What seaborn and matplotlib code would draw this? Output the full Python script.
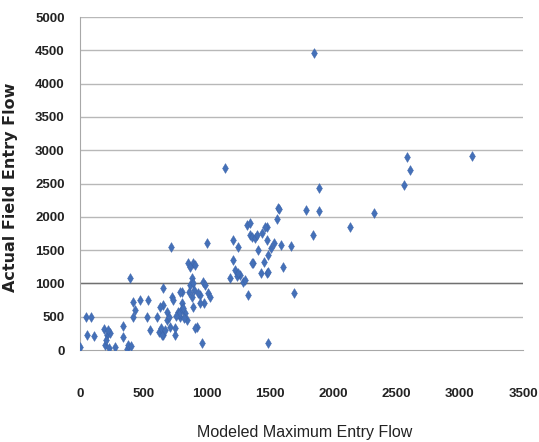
import matplotlib
matplotlib.use("Agg")
import matplotlib.pyplot as plt
import seaborn as sns
import pandas as pd

modeled = [
    0, 48, 87, 55, 111, 190, 214, 198, 238, 205, 222, 277, 341, 341, 372, 380, 404, 396, 420, 436, 420, 475, 230,
    531, 539, 554, 610, 626, 657, 657, 657, 689, 721, 729, 713, 752, 776, 790, 808, 808, 832, 847, 855, 895, 911,
    871, 887, 895, 927, 950, 966, 974, 982, 1006, 1014, 1030, 634, 689, 752, 649, 911, 792, 737, 860, 887, 895,
    990, 800, 780, 820, 810, 760, 700, 900, 930, 950, 870, 640, 670,
    1148, 1188, 1212, 1212, 1228, 1251, 1267, 1291, 1330, 1323, 1346, 1370, 1410, 1426, 1481, 1481, 1489, 1346,
    1465, 1360, 1380, 1400, 1440, 1481, 1505, 1489, 1450, 1362, 1489, 1307, 1240, 1250, 1560, 1568, 1576, 1584,
    1600, 1663, 1687, 1529,
    1845, 1782, 1885, 1885, 1837, 2130, 2320, 2582, 2606, 2558, 3097,
]
actual = [
    45, 495, 495, 225, 210, 315, 225, 75, 255, 150, 300, 45, 360, 195, 15, 75, 60, 1080, 720, 600, 495, 750, 30,
    495, 750, 300, 495, 270, 930, 675, 225, 450, 1545, 795, 345, 225, 570, 495, 870, 705, 555, 450, 1305, 1305, 1275,
    975, 795, 645, 345, 825, 105, 1020, 705, 1605, 855, 795, 645, 570, 330, 225, 330, 870, 750, 870, 1080, 1005,
    975, 600, 540, 480, 630, 510, 500, 900, 850, 700, 1250, 330, 300,
    2730, 1080, 1650, 1350, 1200, 1545, 1125, 1020, 825, 1875, 1725, 1305, 1500, 1155, 1845, 1155, 105, 1905,
    1845, 1700, 1680, 1720, 1750, 1650, 1530, 1425, 1320, 1305, 1170, 1050, 1110, 1160, 1965, 2130, 2115, 1575,
    1245, 1560, 855, 1600,
    4455, 2100, 2085, 2430, 1725, 1845, 2055, 2895, 2700, 2475, 2910,
]

x_ticks = [0, 500, 1000, 1500, 2000, 2500, 3000, 3500]
y_ticks = [0, 500, 1000, 1500, 2000, 2500, 3000, 3500, 4000, 4500, 5000]

df = pd.DataFrame({"Modeled Maximum Entry Flow": modeled, "Actual Field Entry Flow": actual})

sns.set_style("white")

fig = plt.figure(figsize=(5.39, 4.42), dpi=100)
ax = fig.add_axes([0.1484, 0.208, 0.822, 0.7535])

for yv in y_ticks[1:]:
    ax.axhline(yv, color="#b8b8b8", lw=1.0, zorder=0)
ax.axhline(1000, color="#707070", lw=1.0, zorder=0)

sns.scatterplot(data=df, x="Modeled Maximum Entry Flow", y="Actual Field Entry Flow", ax=ax,
                marker="d", s=25, color="#4470B8", edgecolor="#3a62a8", linewidth=0.3, zorder=3)

ax.set_xlim(0, 3500)
ax.set_ylim(0, 5000)
ax.set_xticks(x_ticks)
ax.set_yticks(y_ticks)
tick_font = dict(fontsize=9.5, fontweight="bold", family=["Liberation Sans", "DejaVu Sans"], color="#222222")
ax.set_xticklabels([str(v) for v in x_ticks], **tick_font)
ax.set_yticklabels([str(v) for v in y_ticks], **tick_font)
ax.tick_params(axis="x", length=0, pad=27)
ax.tick_params(axis="y", length=0, pad=11)

for side in ["top", "right"]:
    ax.spines[side].set_visible(False)
ax.spines["left"].set_color("#a8a8a8")
ax.spines["bottom"].set_color("#a8a8a8")

ax.set_xlabel("Modeled Maximum Entry Flow", fontsize=11.5, family=["Liberation Sans", "DejaVu Sans"], color="#222222")
ax.set_ylabel("Actual Field Entry Flow", fontsize=11.5, fontweight="bold", family=["DejaVu Sans"], color="#222222")
ax.xaxis.set_label_coords(0.508, -0.225)
ax.yaxis.set_label_coords(-0.14, 0.49)

fig.savefig("out.png", dpi=100, facecolor="white")
